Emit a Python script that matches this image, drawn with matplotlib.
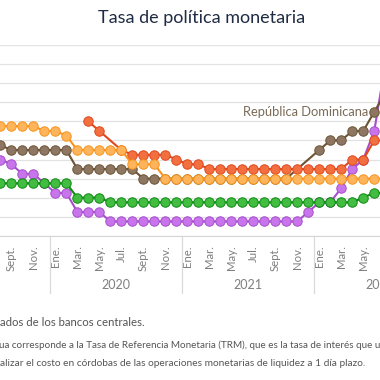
import numpy as np
import pandas as pd
import matplotlib.pyplot as plt

plt.rcParams['font.family'] = ['Lato', 'DejaVu Sans']

# meses: ago. 2019 - jul. 2022
months = pd.period_range('2019-08', '2022-07', freq='M')
nan = np.nan

honduras = [5.75, 5.75, 5.75, 5.75, 5.5, 5.5, 5.25, 4.5, 4.5, 4.5, 4.5, 4.5,
            3.75, 3.75, 3.75, 3.0, 3.0, 3.0, 3.0, 3.0, 3.0, 3.0, 3.0, 3.0,
            3.0, 3.0, 3.0, 3.0, 3.0, 3.0, 3.0, 3.0, 3.0, 3.0, 3.0, 3.0]
rep_dominicana = [4.75, 4.5, 4.5, 4.5, 4.5, 4.5, 4.5, 3.5, 3.5, 3.5, 3.5, 3.5,
                  3.5, 3.0, 3.0, 3.0, 3.0, 3.0, 3.0, 3.0, 3.0, 3.0, 3.0, 3.0,
                  3.0, 3.0, 3.0, nan, nan, 4.5, 5.0, 5.0, 5.5, 5.5, 6.5, 7.5]
costa_rica = [4.0, 3.75, 3.25, 3.25, 2.75, 2.25, 2.25, 1.25, 1.25, 1.25, 0.75, 0.75,
              0.75, 0.75, 0.75, 0.75, 0.75, 0.75, 0.75, 0.75, 0.75, 0.75, 0.75, 0.75,
              0.75, 0.75, 0.75, 0.75, 1.25, 1.75, 1.75, 2.5, 3.5, 4.0, 5.5, 9.0]
guatemala = [2.75, 2.75, 2.75, 2.75, 2.75, 2.75, 2.75, 2.0, 2.0, 2.0, 1.75, 1.75,
             1.75, 1.75, 1.75, 1.75, 1.75, 1.75, 1.75, 1.75, 1.75, 1.75, 1.75, 1.75,
             1.75, 1.75, 1.75, 1.75, 1.75, 1.75, 1.75, 1.75, 1.75, 2.0, 2.25, 2.25]
nicaragua = [nan, nan, nan, nan, nan, nan, nan, nan, 6.0, 5.5, nan, 4.5,
             4.25, 4.25, 4.25, 4.25, 4.0, 3.75, 3.75, 3.5, 3.5, 3.5, 3.5, 3.5,
             3.5, 3.5, 3.5, 3.5, 3.5, 3.5, 3.5, 3.5, 4.0, 4.0, 5.0, 5.0]

month_names = {1: 'Ene.', 3: 'Mar.', 5: 'May.', 7: 'Jul.', 9: 'Sept.', 11: 'Nov.'}
years = [2020, 2021, 2022]

# orden de dibujo: de abajo hacia arriba
series = [
    (costa_rica, '#A64FCB', '#C874EA'),
    (rep_dominicana, '#6B5334', '#8E7762'),
    (guatemala, '#0D8A12', '#42BD42'),
    (nicaragua, '#E0481E', '#F2703F'),
    (honduras, '#F7941D', '#FDB45A'),
]

x = np.arange(len(months))

fig = plt.figure(figsize=(3.8, 3.8), dpi=100)
ax = fig.add_axes([0, 1 - 235.7 / 380, 1, 190.5 / 380])

for vals, c_line, c_mark in series:
    v = np.array(vals, dtype=float)
    ok = ~np.isnan(v)
    ax.plot(x[ok], v[ok], color=c_line, lw=1.5, marker='o', ms=6.8,
            mfc=c_mark, mec=c_line, mew=0.7, zorder=3)

ax.set_xlim(-0.03, 34.52)
ax.set_ylim(0, 10)
ax.set_yticks(range(0, 11))
ax.set_yticklabels([])
ax.grid(axis='y', color='#E2E2E2', lw=0.9)
ax.set_axisbelow(True)
for s in ['top', 'left', 'right']:
    ax.spines[s].set_visible(False)
ax.spines['bottom'].set_color('#D6D6D6')
ax.tick_params(axis='y', length=0)

# etiquetas de mes visibles (hasta mayo 2022)
tick_pos = [i for i, p in enumerate(months) if p.month in month_names and i <= 33]
ax.set_xticks(tick_pos)
ax.set_xticklabels([month_names[months[i].month] for i in tick_pos], rotation=90)
ax.tick_params(axis='x', length=0, pad=7, labelsize=8.2, labelcolor='#7F7F7F')

tr = ax.get_xaxis_transform()
for yr in years:
    idx = [i for i, p in enumerate(months) if p.year == yr]
    first = idx[0]
    ax.plot([first - 0.5, first - 0.5], [0, -0.3], transform=tr, clip_on=False,
            color='#DADADA', lw=0.9)
    mid = first + 5.5
    ax.text(mid, -0.259, str(yr), transform=tr, ha='center', va='center',
            fontsize=9, color='#7F7F7F')

ax.text(33.43, 6.51, 'República Dominicana', ha='right', va='center',
        fontsize=9.3, color='#7A6A57')

fig.text(202 / 380, 1 - 18 / 380, 'Tasa de política monetaria', ha='center',
         va='center', fontsize=13, color='#1F2B44')

fig.text(0, 1 - 323 / 380, 'ados de los bancos centrales.', fontsize=8.2,
         color='#555555', va='center')
fig.text(-0.002, 1 - 345 / 380,
         'ua corresponde a la Tasa de Referencia Monetaria (TRM), que es la tasa de interés que u',
         fontsize=7.1, color='#555555', va='center')
fig.text(0, 1 - 363 / 380,
         'alizar el costo en córdobas de las operaciones monetarias de liquidez a 1 día plazo.',
         fontsize=7.3, color='#555555', va='center')

fig.savefig('out.png', dpi=100)
